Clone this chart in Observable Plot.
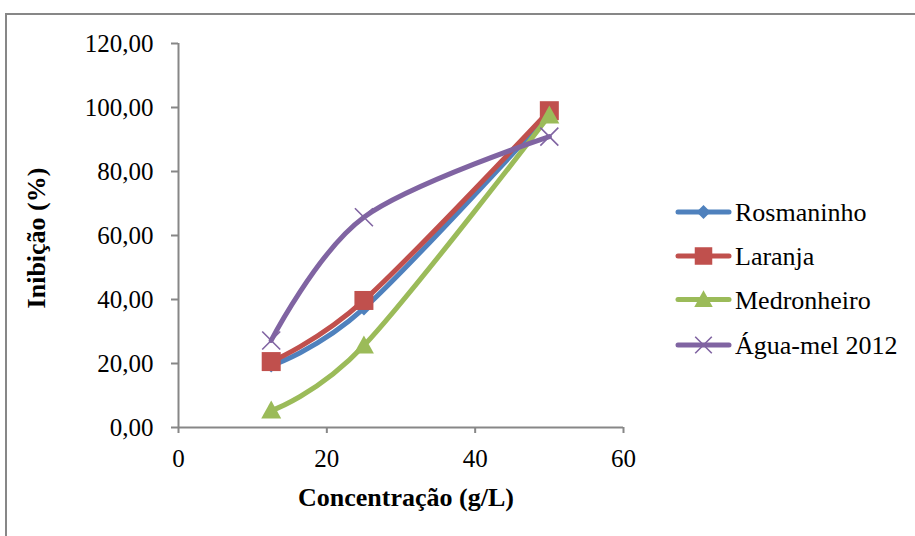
<!DOCTYPE html>
<html><head><meta charset="utf-8">
<script src="https://cdn.jsdelivr.net/npm/d3@7"></script>
<script src="https://cdn.jsdelivr.net/npm/@observablehq/plot@0.6"></script>
<style>
html,body{margin:0;padding:0;background:#fff;overflow:hidden;}
#wrap{position:relative;width:915px;height:536px;overflow:hidden;background:#fff;}
#chart{position:absolute;left:0;top:0;}
#frame{position:absolute;left:5px;top:13px;width:1000px;height:700px;border:2px solid #878787;box-sizing:border-box;}
#overlay{position:absolute;left:0;top:0;}
svg text{font-family:'Liberation Serif','Times New Roman',serif !important;}
</style></head><body>
<div id="wrap"><div id="chart"></div><div id="frame"></div><svg id="overlay" width="915" height="536"></svg></div>
<script>
const concentrations = [12.5, 25, 50];
const seriesNames = ["Rosmaninho", "Laranja", "Medronheiro", "Água-mel 2012"];
const rosmaninho = [19.4, 37.2, 98.0];
const laranja = [20.6, 39.7, 99.0];
const medronheiro = [5.3, 25.6, 97.5];
const aguaMel = [27.2, 65.7, 90.9];
const seriesColors = ["#4F81BD", "#C0504D", "#9BBB59", "#8064A2"];
const xTicks = [0, 20, 40, 60];
const yTicks = [0, 20, 40, 60, 80, 100, 120];
const xTitle = "Concentração (g/L)";
const yTitle = "Inibição (%)";

const FONT = "'Liberation Serif', 'Times New Roman', serif";
const AXIS = "#878787";

// custom marker shapes (r = half extent in px)
const rad = s => Math.sqrt(s / Math.PI);
const diamondSym = {draw(c, s){ const r = rad(s); c.moveTo(0,-r); c.lineTo(r,0); c.lineTo(0,r); c.lineTo(-r,0); c.closePath(); }};
const squareSym = {draw(c, s){ const r = rad(s); c.rect(-r,-r,2*r,2*r); }};
const triangleSym = {draw(c, s){ const r = rad(s); c.moveTo(0,-r); c.lineTo(r,0.8*r); c.lineTo(-r,0.8*r); c.closePath(); }};
const timesSym = {draw(c, s){ const r = rad(s); c.moveTo(-r,-r); c.lineTo(r,r); c.moveTo(-r,r); c.lineTo(r,-r); }};
const symbols = [diamondSym, squareSym, triangleSym, timesSym];
const radii = [7, 9.5, 10, 9];
const values = [rosmaninho, laranja, medronheiro, aguaMel];

const series = seriesNames.map((name, i) => concentrations.map((c, j) => ({name, x: c, y: values[i][j]})));

const marks = [
  Plot.ruleY([0], {x1: 0, x2: 60, stroke: AXIS, strokeWidth: 2}),
  Plot.ruleX([0], {y1: 0, y2: 120, stroke: AXIS, strokeWidth: 2}),
  Plot.axisY({ticks: yTicks, tickFormat: d => d.toFixed(2).replace(".", ","), tickSize: 7, tickPadding: 18, stroke: AXIS, strokeWidth: 2, label: null}),
  Plot.axisX({ticks: xTicks, tickFormat: d => String(d), tickSize: 6, tickPadding: 16, stroke: AXIS, strokeWidth: 2, label: null})
];
series.forEach((data, i) => {
  marks.push(Plot.line(data, {x: "x", y: "y", stroke: seriesColors[i], strokeWidth: 5, curve: "cardinal", strokeLinecap: "round", strokeLinejoin: "round"}));
  const isStroke = i === 3;
  marks.push(Plot.dot(data, {x: "x", y: "y", symbol: symbols[i], r: radii[i],
    fill: isStroke ? "none" : seriesColors[i], stroke: seriesColors[i], strokeWidth: isStroke ? 1.6 : 0}));
});

const chart = Plot.plot({
  width: 915, height: 536,
  marginLeft: 178, marginRight: 292, marginTop: 43, marginBottom: 109,
  x: {domain: [0, 60]},
  y: {domain: [0, 120]},
  style: {fontFamily: FONT, fontSize: "25px", color: "#000", background: "transparent", overflow: "visible"},
  marks
});
document.getElementById("chart").appendChild(chart);

// overlay: axis titles + legend
const ov = d3.select("#overlay");
ov.append("text").attr("x", 406).attr("y", 506).attr("text-anchor", "middle")
  .style("font-family", FONT).attr("font-size", 26).attr("font-weight", "bold").text(xTitle);
ov.append("text").attr("transform", "translate(45,238) rotate(-90)").attr("text-anchor", "middle")
  .style("font-family", FONT).attr("font-size", 26).attr("font-weight", "bold").text(yTitle);

const legendY = [212, 256, 299.5, 345];
seriesNames.forEach((name, i) => {
  const g = ov.append("g").attr("transform", `translate(0,${legendY[i]})`);
  g.append("line").attr("x1", 678).attr("x2", 729).attr("y1", 0).attr("y2", 0)
    .attr("stroke", seriesColors[i]).attr("stroke-width", 5).attr("stroke-linecap", "round");
  const sym = d3.symbol(symbols[i], Math.PI * radii[i] * radii[i] * (i === 0 ? 1 : 0.85));
  g.append("path").attr("transform", "translate(703.5,0)").attr("d", sym())
    .attr("fill", i === 3 ? "none" : seriesColors[i]).attr("stroke", seriesColors[i]).attr("stroke-width", i === 3 ? 1.6 : 0);
  g.append("text").attr("x", 735).attr("y", 0).attr("dy", "0.35em")
    .style("font-family", FONT).attr("font-size", 26).text(name);
});
</script>
</body></html>
